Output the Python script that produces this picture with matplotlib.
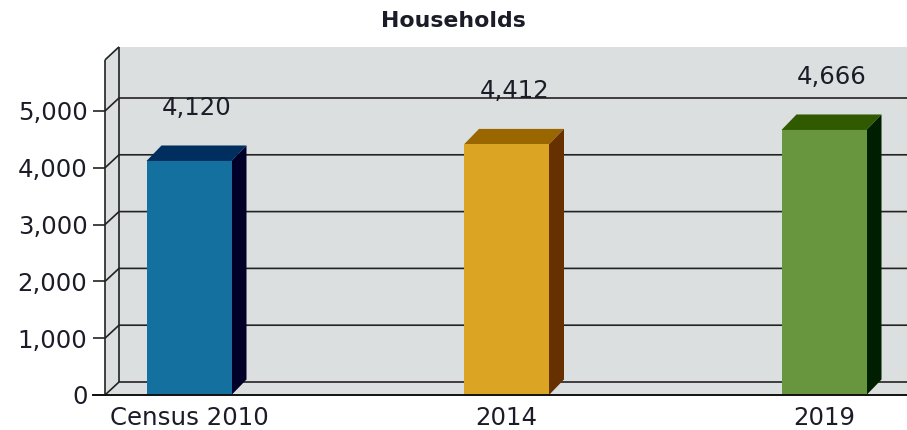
import matplotlib
matplotlib.use("Agg")
import matplotlib.pyplot as plt

categories = ["Census 2010", "2014", "2019"]
values = [4120, 4412, 4666]
y_ticks = [0, 1000, 2000, 3000, 4000, 5000]
front_colors = ["#13709f", "#dba523", "#68963f"]
top_colors = ["#002f5f", "#996600", "#2f5a00"]
side_colors = ["#000028", "#663000", "#001e00"]
title = "Households"

W, H = 907, 430
PX_PER_CAT = 317.5
PX_PER_UNIT = 0.0568
YMAX = 5900
AX_L, AX_B = 105, 35
INK = "#1c1c28"
LINE = "#222222"
WALL = "#dcdfdf"
BAR_W = 85 / PX_PER_CAT
FS = 17.6

fig = plt.figure(figsize=(W / 100, H / 100), dpi=100, facecolor="white")
ax = fig.add_axes([AX_L / W, AX_B / H, (W - AX_L) / W, YMAX * PX_PER_UNIT / H])
xl, xr = -84 / PX_PER_CAT, (W - 189) / PX_PER_CAT
ax.set_xlim(xl, xr)
ax.set_ylim(0, YMAX)
ax.patch.set_visible(False)
for s in ax.spines.values():
    s.set_visible(False)


def dx(px):
    return px / PX_PER_CAT


def dy(px):
    return px / PX_PER_UNIT


wx, wy = dx(14), dy(13)
# walls and floor
ax.fill([xl, xl + wx, xr, xr, xl], [0, wy, wy, 0, 0], color=WALL, lw=0, clip_on=False, zorder=1)
ax.fill([xl + wx, xr, xr, xl + wx], [wy, wy, YMAX + wy, YMAX + wy], color=WALL, lw=0, clip_on=False, zorder=1)
ax.fill([xl, xl + wx, xl + wx, xl], [0, wy, YMAX + wy, YMAX], color=WALL, lw=0, clip_on=False, zorder=1)

line_kw = dict(color=LINE, lw=1.2, clip_on=False, zorder=2, solid_capstyle="butt")
for t in y_ticks:
    ax.plot([xl, xl + wx, xr], [t, t + wy, t + wy], **line_kw)
ax.plot([xl, xl], [0, YMAX], **line_kw)
ax.plot([xl + wx, xl + wx], [wy, YMAX + wy], **line_kw)
ax.plot([xl, xl + wx], [YMAX, YMAX + wy], **line_kw)

# bars
bx, by = dx(15), dy(15.5)
for i, v in enumerate(values):
    l, r = i - BAR_W / 2, i + BAR_W / 2
    ax.bar(i, v, width=BAR_W, color=front_colors[i], lw=0, zorder=4, clip_on=False)
    ax.fill([l, r, r + bx, l + bx], [v, v, v + by, v + by], color=top_colors[i], lw=0, zorder=3, clip_on=False)
    ax.fill([r, r + bx, r + bx, r], [0, by, v + by, v], color=side_colors[i], lw=0, zorder=3, clip_on=False)
    ax.annotate(f"{v:,}", (i, v), xytext=(8 * 0.72, 53 * 0.72), textcoords="offset points",
                ha="center", va="center", fontsize=FS, color=INK, zorder=5)

ax.set_yticks(y_ticks)
ax.set_yticklabels([f"{t:,}" for t in y_ticks], fontsize=FS, color=INK)
ax.tick_params(axis="y", length=12 * 0.72, width=1.2, color=LINE, pad=4)
ax.set_xticks(range(len(categories)))
ax.set_xticklabels(categories, fontsize=FS, color=INK)
ax.tick_params(axis="x", length=0, pad=8)
ax.plot([xl - dx(12), xr], [0, 0], color="#111111", lw=1.4, clip_on=False, zorder=6)

fig.text(453 / W, 1 - 21 / H, title, ha="center", va="center", fontsize=15.8, fontweight="bold", color=INK)
fig.savefig("out.png", dpi=100)
